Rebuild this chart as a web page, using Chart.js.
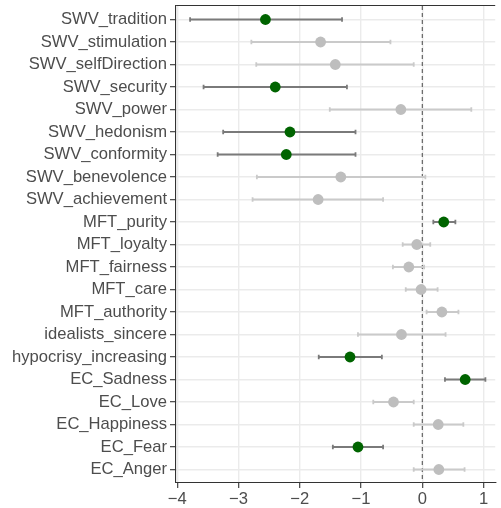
<!DOCTYPE html>
<html>
<head>
    <title>Effect estimates</title>
    <script src="https://cdn.jsdelivr.net/npm/chart.js"></script>
    <style>
        html, body { margin: 0; padding: 0; background: #fff; overflow: hidden; }
        #effectChart { display: block; }
    </style>
</head>
<body>
    <canvas id="effectChart" width="501" height="508"></canvas>

    <script>
        // rows, top to bottom
        const labels = [
            'SWV_tradition', 'SWV_stimulation', 'SWV_selfDirection', 'SWV_security',
            'SWV_power', 'SWV_hedonism', 'SWV_conformity', 'SWV_benevolence',
            'SWV_achievement', 'MFT_purity', 'MFT_loyalty', 'MFT_fairness', 'MFT_care',
            'MFT_authority', 'idealists_sincere', 'hypocrisy_increasing', 'EC_Sadness',
            'EC_Love', 'EC_Happiness', 'EC_Fear', 'EC_Anger'
        ];
        const estimate = [-2.56, -1.66, -1.42, -2.40, -0.35, -2.16, -2.22, -1.33, -1.70, 0.35, -0.09,
                          -0.22, -0.02, 0.32, -0.34, -1.18, 0.70, -0.47, 0.26, -1.05, 0.27];
        const lower = [-3.79, -2.79, -2.71, -3.57, -1.51, -3.25, -3.34, -2.70, -2.77, 0.18, -0.32,
                       -0.48, -0.27, 0.07, -1.05, -1.69, 0.37, -0.80, -0.14, -1.46, -0.14];
        const upper = [-1.31, -0.52, -0.14, -1.23, 0.80, -1.09, -1.09, 0.05, -0.64, 0.54, 0.13,
                       0.03, 0.25, 0.59, 0.38, -0.66, 1.03, -0.14, 0.67, -0.64, 0.69];
        const significant = [true, false, false, true, false, true, true, false, false, true, false,
                             false, false, false, false, true, true, false, false, true, false];
        const xTicks = [-4, -3, -2, -1, 0, 1];

        const FONT = 'Liberation Sans, Arial, sans-serif';
        const GRID = '#ebebeb';
        const AXIS = '#333333';
        const X_MIN = -4.02, X_MAX = 1.19;
        const Y_MIN = -0.6, Y_MAX = labels.length - 0.4;

        const datasets = [];

        // error bars, one small line per row
        labels.forEach((name, i) => {
            const col = significant[i] ? '#7a7a7a' : '#cacaca';
            datasets.push({
                type: 'line',
                data: [{ x: lower[i], y: i }, { x: upper[i], y: i }],
                borderColor: col,
                borderWidth: 1.8,
                pointStyle: 'line',
                rotation: 90,
                pointRadius: 2.3,
                pointBorderColor: col,
                pointBorderWidth: 1.8,
                order: 1
            });
        });

        // reference line at zero
        datasets.push({
            type: 'line',
            data: [{ x: 0, y: Y_MIN }, { x: 0, y: Y_MAX }],
            borderColor: '#555555',
            borderWidth: 1.1,
            borderDash: [4, 3],
            pointRadius: 0,
            order: 2
        });

        // estimates
        datasets.push({
            type: 'scatter',
            data: estimate.map((v, i) => ({ x: v, y: i })),
            backgroundColor: significant.map(s => s ? '#006400' : '#bebebe'),
            borderWidth: 0,
            pointRadius: 5.4,
            order: 0
        });

        function noPad(s) {
            s.paddingLeft = 0; s.paddingRight = 0; s.paddingTop = 0; s.paddingBottom = 0;
        }

        const isTop = c => c.tick && c.tick.value === Y_MIN;

        new Chart(document.getElementById('effectChart'), {
            data: { datasets: datasets },
            options: {
                responsive: false,
                devicePixelRatio: 1,
                animation: false,
                layout: { padding: { top: 6, left: 0, right: 0, bottom: 0 } },
                plugins: { legend: { display: false }, tooltip: { enabled: false } },
                scales: {
                    x: {
                        type: 'linear',
                        min: X_MIN,
                        max: X_MAX,
                        afterBuildTicks: s => { s.ticks = xTicks.map(v => ({ value: v })); },
                        afterFit: s => { s.height = 25; noPad(s); },
                        ticks: {
                            autoSkip: false,
                            maxRotation: 0,
                            callback: v => String(v).replace('-', '\u2212'),
                            color: '#4d4d4d',
                            font: { family: FONT, size: 16.6 },
                            padding: 1
                        },
                        grid: { color: GRID, lineWidth: 1.4, tickColor: AXIS, tickLength: 5, tickWidth: 1.1 },
                        border: { color: AXIS, width: 1.1 }
                    },
                    y: {
                        type: 'linear',
                        reverse: true,
                        min: Y_MIN,
                        max: Y_MAX,
                        // row ticks plus the top edge, whose grid line is the panel's top border
                        afterBuildTicks: s => {
                            s.ticks = [{ value: Y_MIN }].concat(labels.map((_, i) => ({ value: i })));
                        },
                        afterFit: s => { s.width = 176; noPad(s); },
                        ticks: {
                            autoSkip: false,
                            callback: v => (v === Y_MIN ? '' : labels[v]),
                            color: '#4d4d4d',
                            font: { family: FONT, size: 16.6 },
                            padding: 3
                        },
                        grid: {
                            color: c => (isTop(c) ? AXIS : GRID),
                            lineWidth: c => (isTop(c) ? 1.1 : 1.4),
                            tickColor: c => (isTop(c) ? 'rgba(0,0,0,0)' : AXIS),
                            tickLength: 6,
                            tickWidth: 1.1
                        },
                        border: { color: AXIS, width: 1.1 }
                    }
                }
            }
        });
    </script>
</body>
</html>
